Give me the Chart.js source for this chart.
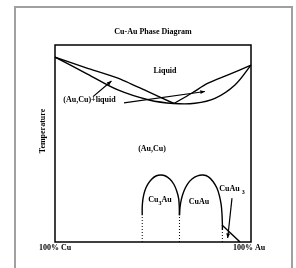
<!DOCTYPE html>
<html>
<head>
<meta charset="utf-8">
<script src="https://cdn.jsdelivr.net/npm/chart.js@4.4.0/dist/chart.umd.min.js"></script>
<style>
  body { margin: 0; background: #fff; }
  #wrap { width: 296px; height: 268px; }
</style>
</head>
<body>
<div id="wrap"><canvas id="phaseChart" width="296" height="268"></canvas></div>
<script>
// x = composition (% Au), y = temperature (arbitrary 0-100)
const liqLeftX = [0, 16.3, 32.1, 46.4, 60.7];
const liqLeftY = [93.8, 88.3, 83.2, 76.8, 70.3];
const liqRightX = [60.7, 69.7, 78.1, 88.3, 100];
const liqRightY = [70.3, 75.5, 80.6, 84.8, 89.8];
const solX = [0, 16.3, 32.1, 48, 60.7, 71.4, 81.6, 91.8, 100];
const solY = [93.8, 85.4, 77.2, 72.1, 70.3, 70.4, 72.9, 79.7, 89.8];

const cu3auX = [44.5, 44.5, 44.9, 45.8, 47.3, 49.3, 51.5, 54.0, 56.4, 58.7, 60.7, 62.1, 63.1, 63.4, 63.5];
const cu3auY = [13.6, 17.8, 22.0, 25.9, 29.2, 31.8, 33.5, 34.0, 33.5, 31.8, 29.2, 25.9, 22.0, 17.8, 13.6];
const cuauX = [63.5, 63.8, 64.5, 65.8, 67.6, 69.9, 72.7, 75.5, 78.3, 80.6, 82.6, 83.9, 84.8, 85.2, 85.4, 85.4];
const cuauY = [13.6, 17.8, 21.8, 25.9, 29.4, 32.0, 33.6, 34.0, 33.1, 30.7, 27.4, 23.4, 18.8, 14.2, 9.1, 6.1];

const dottedX = [44.5, 63.5, 85.4];
const dottedTop = [13.6, 13.6, 6.1];
const cuau3LineX = [85.2, 94.4];
const cuau3LineY = [8.6, 0];

// region labels: [text, subscript, tail, x, y]
const labels = [
    ['Liquid', '', '', 56.1, 86.8],
    ['(Au,Cu)+liquid', '', '', 17.6, 72.3],
    ['(Au,Cu)', '', '', 49.5, 47.2],
    ['Cu', '3', 'Au', 53.6, 21.3],
    ['CuAu', '', '', 73.5, 20.3],
    ['CuAu ', '3', '', 90.3, 26.9]
];
// arrows: [fromX, fromY, toX, toY]
const arrows = [
    [19.4, 73.8, 28.8, 81.7],
    [35.2, 70.6, 76.5, 76.4],
    [90.3, 22.3, 88.1, 2.0]
];

function pts(xs, ys) {
    return xs.map(function (x, i) { return { x: x, y: ys[i] }; });
}

function lineSet(data, extra) {
    return Object.assign({
        data: data,
        showLine: true,
        pointRadius: 0,
        borderColor: '#000',
        borderWidth: 1.4,
        tension: 0.35,
        clip: false
    }, extra || {});
}

const datasets = [
    lineSet(pts(liqLeftX, liqLeftY), { tension: 0.2 }),
    lineSet(pts(liqRightX, liqRightY)),
    lineSet(pts(solX, solY)),
    lineSet(pts(cu3auX, cu3auY), { tension: 0.3 }),
    lineSet(pts(cuauX, cuauY), { tension: 0.3 }),
    lineSet(pts(cuau3LineX, cuau3LineY), { tension: 0 })
];
dottedX.forEach(function (x, i) {
    datasets.push(lineSet([{ x: x, y: 0 }, { x: x, y: dottedTop[i] }],
        { borderWidth: 1, borderDash: [1, 2], tension: 0 }));
});

const FONT = 'bold 8px "Liberation Serif", "DejaVu Serif", serif';

const decorPlugin = {
    id: 'decor',
    beforeDraw: function (chart) {
        const ctx = chart.ctx;
        ctx.save();
        ctx.fillStyle = '#fff';
        ctx.fillRect(0, 0, chart.width, chart.height);
        // grey outer frame
        ctx.strokeStyle = '#a0a0a0';
        ctx.lineWidth = 2;
        ctx.beginPath();
        ctx.moveTo(15, 272);
        ctx.lineTo(15, 7);
        ctx.lineTo(292, 7);
        ctx.lineTo(292, 272);
        ctx.stroke();
        ctx.restore();
    },
    afterDatasetsDraw: function (chart) {
        const ctx = chart.ctx;
        const xs = chart.scales.x, ys = chart.scales.y;
        const a = chart.chartArea;
        ctx.save();
        ctx.strokeStyle = '#000';
        ctx.lineWidth = 1.5;
        ctx.strokeRect(a.left, a.top, a.right - a.left, a.bottom - a.top);

        ctx.fillStyle = '#000';
        ctx.font = FONT;
        ctx.textBaseline = 'middle';
        ctx.textAlign = 'center';
        ctx.fillText('Cu-Au Phase Diagram', (a.left + a.right) / 2, 32);
        ctx.fillText('100% Cu', a.left, a.bottom + 6);
        ctx.fillText('100% Au', a.right - 2, a.bottom + 6);

        ctx.save();
        ctx.translate(43, 131);
        ctx.rotate(-Math.PI / 2);
        ctx.fillText('Temperature', 0, 0);
        ctx.restore();

        labels.forEach(function (l) {
            const small = 'bold 6px "Liberation Serif", serif';
            ctx.font = FONT;
            const w1 = ctx.measureText(l[0]).width;
            const w3 = ctx.measureText(l[2]).width;
            ctx.font = small;
            const w2 = ctx.measureText(l[1]).width;
            let x = xs.getPixelForValue(l[3]) - (w1 + w2 + w3) / 2;
            const y = ys.getPixelForValue(l[4]);
            ctx.textAlign = 'left';
            ctx.font = FONT;
            ctx.fillText(l[0], x, y);
            x += w1;
            ctx.font = small;
            ctx.fillText(l[1], x, y + 3);
            x += w2;
            ctx.font = FONT;
            ctx.fillText(l[2], x, y);
        });

        ctx.lineWidth = 1.2;
        arrows.forEach(function (r) {
            const x1 = xs.getPixelForValue(r[0]), y1 = ys.getPixelForValue(r[1]);
            const x2 = xs.getPixelForValue(r[2]), y2 = ys.getPixelForValue(r[3]);
            const ang = Math.atan2(y2 - y1, x2 - x1);
            ctx.beginPath();
            ctx.moveTo(x1, y1);
            ctx.lineTo(x2, y2);
            ctx.stroke();
            ctx.beginPath();
            ctx.moveTo(x2, y2);
            ctx.lineTo(x2 - 5 * Math.cos(ang - 0.4), y2 - 5 * Math.sin(ang - 0.4));
            ctx.lineTo(x2 - 5 * Math.cos(ang + 0.4), y2 - 5 * Math.sin(ang + 0.4));
            ctx.closePath();
            ctx.fill();
        });
        ctx.restore();
    }
};

new Chart(document.getElementById('phaseChart').getContext('2d'), {
    type: 'scatter',
    data: { datasets: datasets },
    options: {
        responsive: false,
        animation: false,
        devicePixelRatio: 1,
        layout: { padding: { left: 55, right: 45, top: 45, bottom: 26 } },
        plugins: { legend: { display: false }, tooltip: { enabled: false } },
        scales: {
            x: { type: 'linear', min: 0, max: 100, display: false },
            y: { type: 'linear', min: 0, max: 100, display: false }
        }
    },
    plugins: [decorPlugin]
});
</script>
</body>
</html>
